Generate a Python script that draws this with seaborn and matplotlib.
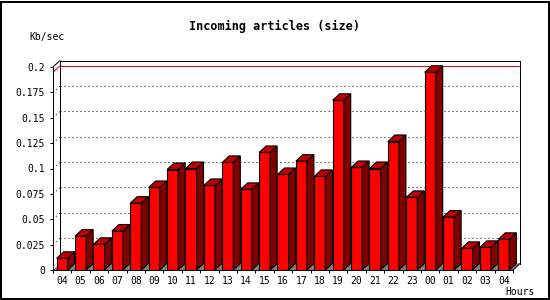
import numpy as np
import pandas as pd
import matplotlib
matplotlib.use("Agg")
import matplotlib.pyplot as plt
import seaborn as sns
from matplotlib.patches import Polygon, Rectangle

# ---- data ----
hours = ["04", "05", "06", "07", "08", "09", "10", "11", "12", "13", "14", "15",
         "16", "17", "18", "19", "20", "21", "22", "23", "00", "01", "02", "03", "04"]
values = [0.0115, 0.0334, 0.0253, 0.0384, 0.0659, 0.0813, 0.0990, 0.1000, 0.0833,
          0.1060, 0.0794, 0.1158, 0.0941, 0.1072, 0.0922, 0.1672, 0.1010, 0.1000,
          0.1266, 0.0715, 0.1948, 0.0521, 0.0213, 0.0223, 0.0302]
yticks = [0, 0.025, 0.05, 0.075, 0.1, 0.125, 0.15, 0.175, 0.2]
ytick_labels = ["0", "0.025", "0.05", "0.075", "0.1", "0.125", "0.15", "0.175", "0.2"]
title = "Incoming articles (size)"
ylabel = "Kb/sec"
xlabel = "Hours"

sns.set_style("white")
FONT = "DejaVu Sans Mono"
plt.rcParams["font.family"] = [FONT]
plt.rcParams["text.color"] = "black"
plt.rcParams["xtick.color"] = "black"
plt.rcParams["ytick.color"] = "black"
plt.rcParams["xtick.labelcolor"] = "black"
plt.rcParams["ytick.labelcolor"] = "black"

W, H = 550, 300
fig = plt.figure(figsize=(W / 100, H / 100), dpi=100)
L, R, B, T = 53, 513, 270, 67  # pixel positions of the front axes
ax = fig.add_axes([L / W, (H - B) / H, (R - L) / W, (B - T) / H])
ax.set_facecolor("none")

n = len(values)
df = pd.DataFrame({"slot": list(range(n)), "value": values})
sns.barplot(data=df, x="slot", y="value", color="#ff0000", saturation=1,
            width=0.6, edgecolor="black", linewidth=0.8, ax=ax, zorder=5)

xmin, xmax = -0.5, n - 0.5
ymin, ymax = 0, 0.2
ax.set_xlim(xmin, xmax)
ax.set_ylim(ymin, ymax)

ux = (xmax - xmin) / (R - L)
uy = (ymax - ymin) / (B - T)
DX, DY = 7 * ux, 6.5 * uy
lw = 0.72

# 3D faces for each bar
for p in list(ax.patches):
    x0 = p.get_x()
    x1 = x0 + p.get_width()
    v = p.get_height()
    side = Polygon([(x1, 0), (x1, v), (x1 + DX, v + DY), (x1 + DX, DY)],
                   closed=True, facecolor="#800000", edgecolor="black",
                   linewidth=0.8, zorder=5, clip_on=False)
    top = Polygon([(x0, v), (x1, v), (x1 + DX, v + DY), (x0 + DX, v + DY)],
                  closed=True, facecolor="#c00000", edgecolor="black",
                  linewidth=0.8, zorder=5, clip_on=False)
    ax.add_patch(side)
    ax.add_patch(top)

# floor
ax.add_patch(Polygon([(xmin, 0), (xmax, 0), (xmax + DX, DY), (xmin + DX, DY)],
                     closed=True, facecolor="#808080", edgecolor="none",
                     zorder=2, clip_on=False))

# back gridlines + left wall
for t in yticks[1:-1]:
    ax.plot([xmin + DX, xmax + DX], [t + DY, t + DY], color="black", lw=lw,
            linestyle=(0, (1, 3)), zorder=1, clip_on=False)
    ax.plot([xmin, xmin + DX], [t, t + DY], color="black", lw=lw,
            linestyle=(0, (1, 3)), zorder=1, clip_on=False)

# max line
vmax = max(values)
ax.plot([xmin + DX, xmax + DX], [vmax + DY] * 2, color="#ff0000", lw=lw,
        zorder=3, clip_on=False)
ax.plot([xmin, xmin + DX], [vmax, vmax + DY], color="#ff0000", lw=lw,
        zorder=3, clip_on=False)

# frame
frame = [
    ([xmin + DX, xmin + DX], [DY, ymax + DY], 1),
    ([xmin + DX, xmax + DX], [ymax + DY, ymax + DY], 1),
    ([xmax + DX, xmax + DX], [ymax + DY, DY], 1),
    ([xmin, xmin], [0, ymax], 6),
    ([xmin, xmin + DX], [ymax, ymax + DY], 6),
    ([xmin, xmax], [0, 0], 6),
    ([xmax, xmax + DX], [0, DY], 6),
]
for xs, ys, z in frame:
    ax.plot(xs, ys, color="black", lw=lw, zorder=z, clip_on=False,
            solid_capstyle="projecting")

for s in ax.spines.values():
    s.set_visible(False)

ax.set_xlabel("")
ax.set_ylabel("")
ax.set_xticks(range(n))
ax.set_xticklabels(hours)
ax.set_xticks(np.arange(xmin, xmax + 0.01, 1), minor=True)
ax.tick_params(axis="x", which="major", length=0, pad=4, labelsize=7,
               colors="black")
ax.tick_params(axis="x", which="minor", length=2.2, width=lw, direction="out",
               color="black")
ax.set_yticks(yticks)
ax.set_yticklabels(ytick_labels)
ax.tick_params(axis="y", which="major", length=2.2, width=lw, pad=3.6,
               labelsize=7, colors="black", left=True)
ax.tick_params(axis="x", bottom=True, which="both")
ax.grid(False)

fig.text(274.5 / W, 1 - 26.7 / H, title, ha="center", va="center",
         fontsize=8.5, fontweight="bold", family=FONT, color="black")
fig.text(29 / W, 1 - 37 / H, ylabel, ha="left", va="center", fontsize=7,
         family=FONT, color="black")
fig.text(505 / W, 1 - 292 / H, xlabel, ha="left", va="center", fontsize=7,
         family=FONT, color="black")

fig.patches.append(Rectangle((1 / W, 1.5 / H), 547.5 / W, 297 / H,
                             transform=fig.transFigure, fill=False,
                             edgecolor="black", linewidth=1.44))

fig.savefig("out.png", dpi=100)
